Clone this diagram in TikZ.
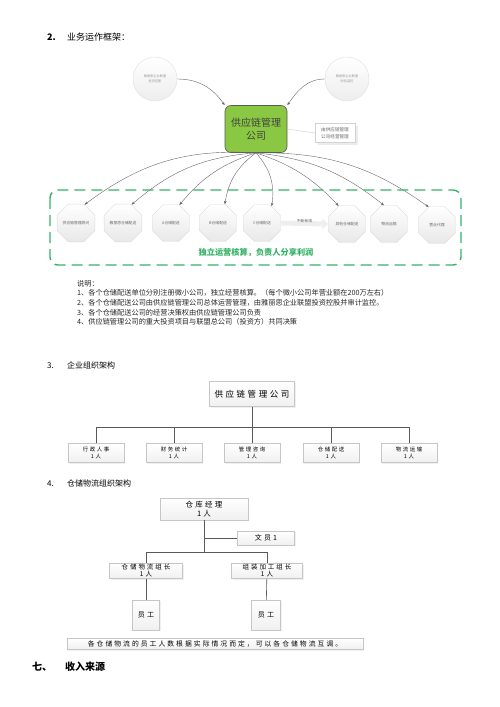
\documentclass[tikz,border=0pt]{standalone}
\usepackage{fontspec}
\setmainfont{Noto Sans CJK SC}
\usetikzlibrary{arrows.meta, positioning, shapes.geometric, shadows}
\definecolor{leafgreen}{RGB}{138,200,68}
\definecolor{dashgreen}{RGB}{52,178,102}
\newcommand{\wide}{\addfontfeature{LetterSpace=30}}

\begin{document}
\begin{tikzpicture}[
      x=1pt, y=-1pt, >={Stealth[length=3.5pt, width=2.6pt]},
      every node/.style={inner sep=0pt, align=center},
      orb/.style={circle, minimum size=44pt, top color=white, bottom color=gray!14,
        draw=gray!25, font=\fontsize{3.2}{4.5}\selectfont, text=gray!80},
      firm/.style={rounded corners=6pt, minimum width=62pt, minimum height=47pt,
        fill=leafgreen, draw=black!65, line width=0.6pt,
        font=\fontsize{10}{13}\selectfont, text=black!75},
      note/.style={draw=gray!35, fill=white, minimum width=40pt, minimum height=19pt,
        font=\fontsize{4.6}{6.5}\selectfont, text=gray!80!black, drop shadow={opacity=0.15}},
      unit/.style={regular polygon, regular polygon sides=8, minimum size=40pt,
        top color=white, bottom color=gray!18, draw=gray!30,
        font=\fontsize{3.8}{5}\selectfont, text=gray!80!black},
      flow/.style={->, draw=black!60, line width=0.4pt},
      orgbox/.style={draw=gray!45, top color=white, bottom color=gray!12,
        drop shadow={opacity=0.12, shadow xshift=1pt, shadow yshift=-1pt}},
      wire/.style={draw=black!65, line width=0.6pt}
      ]

      \useasboundingbox (0,0) rectangle (500,707);

      % 2. business frame
      \node[anchor=west, font=\fontsize{9}{11}\selectfont] (head2) at (47,37)
        {\makebox[20pt][l]{\textbf{2.}}业务运作框架：};

      \node[orb]  (invest)  at (155,79) {雅丽思企业联盟\\投资控股};
      \node[orb]  (audit)   at (347,79) {雅丽思企业联盟\\财务监控};
      \node[firm] (firm)    at (256,129) {供应链管理\\公司};
      \node[note] (remark)  at (335,133) {由供应链管理\\公司经营管理};

      \draw[flow] (invest.east) to[out=0, in=125] (firm.north west);
      \draw[flow] (audit.west) to[out=180, in=55] (firm.north east);
      \draw[gray!35, line width=0.5pt] (firm.east) -- (remark.west);

      \node[unit] (o1) at (76,223)  {供应链管理顾问};
      \node[unit] (o2) at (123,223) {雅丽思仓储配送};
      \node[unit] (o3) at (171,223) {A仓储配送};
      \node[unit] (o4) at (218,223) {B仓储配送};
      \node[unit] (o5) at (262,223) {C仓储配送};
      \node[unit] (o6) at (347,224) {其他仓储配送};
      \node[unit] (o7) at (389,224) {物流运输};
      \node[unit] (o8) at (437,225) {营业代理};

      \draw[gray!13, line width=5pt, -{Triangle[length=6pt, width=10pt]}]
        (o5.east) -- (o6.west) node[midway, above=-2pt, font=\fontsize{3.8}{5}\selectfont, text=gray!80!black] (more) {不断新增};

      \draw[flow] (firm.south) to[bend right=20] (o1.65);
      \draw[flow] (firm.south) to[bend right=18] (o2.65);
      \draw[flow] (firm.south) to[bend right=16] (o3.65);
      \draw[flow] (firm.south) to[bend right=22] (o4.70);
      \draw[flow] (firm.south) to[bend left=25]  (o5.60);
      \draw[flow] (firm.south) to[bend left=14]  (o6.115);
      \draw[flow] (firm.south) to[bend left=16]  (o7.105);
      \draw[flow] (firm.south) to[bend left=18]  (o8.115);

      \draw[dashgreen, line width=1.4pt, dash pattern=on 11pt off 6pt, rounded corners=8pt]
        (50,190) rectangle (461,265);
      \node[text=dashgreen, font=\fontsize{8.2}{10}\selectfont\bfseries] (profit) at (256,253)
        {独立运营核算，负责人分享利润};

      \node[anchor=north west, align=left, font=\fontsize{7.2}{9.6}\selectfont, text=black!85] (notes) at (77,280)
        {说明：\\
         1、各个仓储配送单位分别注册微小公司，独立经营核算。（每个微小公司年营业额在200万左右）\\
         2、各个仓储配送公司由供应链管理公司总体运营管理，由雅丽思企业联盟投资控股并审计监控。\\
         3、各个仓储配送公司的经营决策权由供应链管理公司负责\\
         4、供应链管理公司的重大投资项目与联盟总公司（投资方）共同决策};

      % 3. company structure
      \node[anchor=west, font=\fontsize{8}{10}\selectfont] (head3) at (47,365)
        {\makebox[20pt][l]{3.}企业组织架构};

      \node[orgbox, minimum width=85pt, minimum height=25pt, font=\fontsize{8.5}{10}\selectfont\wide] (top3) at (252,394) {供应链管理公司};
      \coordinate (bus3) at (252,427);
      \foreach \name/\x/\txt in {b1/96/行政人事, b2/174/财务统计, b3/252/管理咨询, b4/331/仓储配送, b5/409/物流运输}
        \node[orgbox, minimum width=56pt, minimum height=19pt, font=\fontsize{5.4}{7}\selectfont\wide] (\name) at (\x,453) {\txt\\1人};
      \draw[wire] (top3) -- (bus3);
      \foreach \name in {b1,b2,b3,b4,b5}
        \draw[wire] (bus3) -| (\name.north);

      % 4. warehouse structure
      \node[anchor=west, font=\fontsize{8}{10}\selectfont] (head4) at (47,483)
        {\makebox[20pt][l]{4.}仓储物流组织架构};

      \node[orgbox, minimum width=88pt, minimum height=22pt, font=\fontsize{7.5}{8.5}\selectfont\wide] (boss) at (204,509) {仓库经理\\1人};
      \node[orgbox, minimum width=57pt, minimum height=14pt, font=\fontsize{7}{8}\selectfont\wide] (clerk) at (266,538) {文员1};
      \node[orgbox, minimum width=73pt, minimum height=15pt, font=\fontsize{6.5}{7}\selectfont\wide] (lead1) at (146,571) {仓储物流组长\\1人};
      \node[orgbox, minimum width=71pt, minimum height=15pt, font=\fontsize{6.5}{7}\selectfont\wide] (lead2) at (267,571) {组装加工组长\\1人};
      \node[orgbox, minimum width=27pt, minimum height=30pt, font=\fontsize{7}{8}\selectfont\wide] (staff1) at (146,615) {员工};
      \node[orgbox, minimum width=29pt, minimum height=30pt, font=\fontsize{7}{8}\selectfont\wide] (staff2) at (266,615) {员工};
      \node[orgbox, minimum width=296pt, minimum height=11pt, font=\fontsize{6.8}{8}\selectfont\wide] (rule) at (215,644)
        {各仓储物流的员工人数根据实际情况而定，可以各仓储物流互调。};

      \coordinate (tap4) at (204,538);
      \coordinate (bus4) at (204,552);
      \draw[wire] (boss) -- (bus4);
      \draw[wire] (tap4) -- (clerk.west);
      \draw[wire] (bus4) -| (lead1.north);
      \draw[wire] (bus4) -| (lead2.north);
      \draw[wire] (lead1) -- (staff1);
      \draw[wire] (lead2) -- (staff2);

      \node[anchor=west, font=\fontsize{10}{12}\selectfont\bfseries] (head7) at (32,667)
        {\makebox[33pt][l]{七、}收入来源};
    \end{tikzpicture}
\end{document}
